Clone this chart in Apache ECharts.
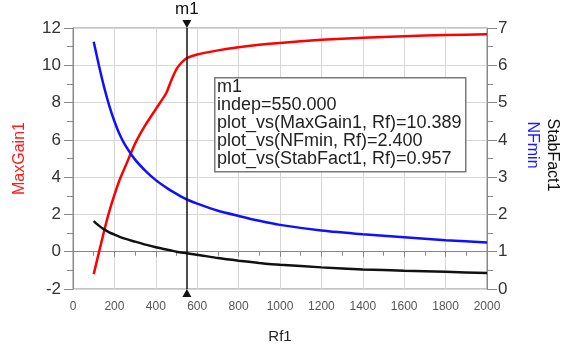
<!DOCTYPE html>
<html>
<head>
<meta charset="utf-8">
<script src="https://cdn.jsdelivr.net/npm/echarts@6/dist/echarts.min.js"></script>
<style>
html,body{margin:0;padding:0;background:#fff;}
#chart{width:561px;height:349px;}
</style>
</head>
<body>
<div id="chart"></div>
<script>
// ---- data ----
var rf = [100,125,150,175,200,225,250,300,350,400,450,475,500,525,550,600,700,800,900,1000,1200,1400,1600,1800,2000];
var maxGain = [-1.2,-0.05,1.1,2.15,3.05,3.85,4.5,5.8,6.8,7.65,8.5,9.2,9.8,10.15,10.389,10.58,10.8,10.97,11.1,11.2,11.37,11.48,11.56,11.62,11.66];
var nfMin = [6.63,6.0,5.42,4.92,4.5,4.15,3.88,3.47,3.17,2.92,2.72,2.63,2.55,2.47,2.4,2.29,2.1,1.96,1.83,1.72,1.57,1.47,1.39,1.31,1.25];
var stabFact = [1.82,1.7,1.6,1.52,1.46,1.4,1.35,1.27,1.19,1.12,1.06,1.03,1.0,0.98,0.957,0.92,0.83,0.76,0.70,0.65,0.58,0.525,0.49,0.46,0.43];
var markerX = 550;
var xTicks = {min:0, max:2000, interval:200};
var leftTicks = {min:-2, max:12, interval:2};
var rightTicks = {min:0, max:7, interval:1};

function pairs(ys){ return rf.map(function(x,i){return [x, ys[i]];}); }
var mi = rf.indexOf(markerX);
var font = 'Liberation Sans, Arial, sans-serif';

var chart = echarts.init(document.getElementById('chart'));
var boxText = [
  'm1',
  'indep=' + markerX.toFixed(3),
  'plot_vs(MaxGain1, Rf)=' + maxGain[mi].toFixed(3),
  'plot_vs(NFmin, Rf)=' + nfMin[mi].toFixed(3),
  'plot_vs(StabFact1, Rf)=' + stabFact[mi].toFixed(3)
].join('\n');

chart.setOption({
  animation:false,
  backgroundColor:'#fff',
  grid:{left:73, right:74, top:28, bottom:58, show:true, borderColor:'#888', borderWidth:1},
  xAxis:{
    type:'value', min:xTicks.min, max:xTicks.max, interval:xTicks.interval,
    name:'Rf1', nameLocation:'middle', nameGap:40,
    nameTextStyle:{fontSize:15, color:'#222', fontFamily:font},
    axisLine:{lineStyle:{color:'#888', width:1}},
    axisTick:{length:5, lineStyle:{color:'#888'}},
    minorTick:{show:true, splitNumber:2, length:4, lineStyle:{color:'#888'}},
    splitLine:{show:true, lineStyle:{color:'#d6d6d6'}},
    axisLabel:{fontSize:12, color:'#555', margin:12, fontFamily:font, formatter:function(v){return String(v);}}
  },
  yAxis:[{
    type:'value', position:'left', min:leftTicks.min, max:leftTicks.max, interval:leftTicks.interval,
    name:'MaxGain1', nameLocation:'middle', nameRotate:90, nameGap:45,
    nameTextStyle:{fontSize:16, color:'#ff1a1a', fontFamily:font},
    axisLine:{show:true, lineStyle:{color:'#888', width:1}},
    axisTick:{show:true, length:9, lineStyle:{color:'#888'}},
    minorTick:{show:true, splitNumber:2, length:6, lineStyle:{color:'#888'}},
    splitLine:{show:true, lineStyle:{color:'#d6d6d6'}},
    axisLabel:{fontSize:17, color:'#333', margin:12, fontFamily:font}
  },{
    type:'value', position:'right', min:rightTicks.min, max:rightTicks.max, interval:rightTicks.interval,
    axisLine:{show:true, lineStyle:{color:'#888', width:1}},
    axisTick:{show:true, length:10, lineStyle:{color:'#888'}},
    minorTick:{show:true, splitNumber:2, length:6, lineStyle:{color:'#888'}},
    splitLine:{show:false},
    axisLabel:{fontSize:17, color:'#333', margin:11, fontFamily:font}
  }],
  series:[{
    name:'MaxGain1', type:'line', yAxisIndex:0, data:pairs(maxGain), smooth:0.2,
    showSymbol:false, clip:false, z:3,
    lineStyle:{color:'#ff0000', width:2.5}, itemStyle:{color:'#ff0000'},
    markLine:{
      silent:true, symbol:'none', animation:false,
      lineStyle:{color:'#111', width:1.5, type:'solid'},
      label:{show:false},
      data:[[{coord:[markerX, leftTicks.min]},{coord:[markerX, leftTicks.max]}]]
    },
    markPoint:{
      silent:true, animation:false,
      itemStyle:{color:'#111'},
      label:{show:false},
      data:[
        {coord:[markerX, leftTicks.min], symbol:'triangle', symbolSize:[9,8], symbolOffset:[0,4]},
        {coord:[markerX, leftTicks.max], symbol:'path://M0,0L10,0L5,10Z', symbolSize:[9,8], symbolOffset:[0,-4],
         label:{show:true, position:'top', distance:2, formatter:'m1', color:'#111', fontSize:17, fontFamily:font}}
      ]
    }
  },{
    name:'NFmin', type:'line', yAxisIndex:1, data:pairs(nfMin), smooth:0.2,
    showSymbol:false, z:3,
    lineStyle:{color:'#1010ff', width:2.5}, itemStyle:{color:'#1010ff'}
  },{
    name:'StabFact1', type:'line', yAxisIndex:1, data:pairs(stabFact), smooth:0.2,
    showSymbol:false, z:3,
    lineStyle:{color:'#111', width:2.5}, itemStyle:{color:'#111'}
  }],
  graphic:[
    {type:'rect', left:214, top:77, z:100,
     shape:{x:0,y:0,width:251,height:94}, style:{fill:'#ffffff', stroke:'#7a7a7a', lineWidth:1.5}},
    {type:'text', left:217, top:78, z:101,
     style:{text:boxText, font:'18px ' + font, lineHeight:18, fill:'#222'}},
    {type:'text', x:552, y:155, rotation:-Math.PI/2, z:100,
     style:{text:'StabFact1', font:'16px ' + font, fill:'#111', align:'center', verticalAlign:'middle'}},
    {type:'text', x:532, y:145, rotation:-Math.PI/2, z:100,
     style:{text:'NFmin', font:'16px ' + font, fill:'#1a1aff', align:'center', verticalAlign:'middle'}}
  ]
});
</script>
</body>
</html>
